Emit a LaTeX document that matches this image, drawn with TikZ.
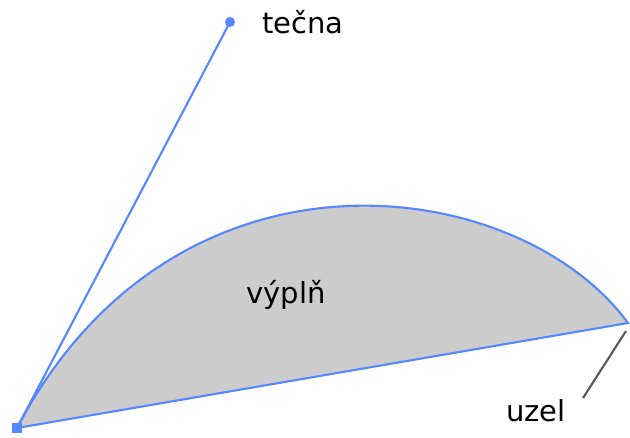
\documentclass[tikz,border=0pt]{standalone}
\usepackage{fontspec}
\setmainfont{DejaVu Sans}
\usetikzlibrary{positioning, calc}
\definecolor{krivka}{RGB}{85,135,255}

\begin{document}
\begin{tikzpicture}[x=0.02cm, y=-0.02cm, font=\fontsize{16.5}{19}\selectfont]
  \useasboundingbox (0,0) rectangle (630,437);
  \coordinate (start) at (17,428);
  \coordinate (konec) at (628,323);
  \coordinate (madlo) at (230,22);
  \coordinate (c1) at (175,127);
  \coordinate (c2) at (518,173);
  % Vyplň
  \fill[gray!40] (start) .. controls (c1) and (c2) .. (konec) -- cycle;
  \draw[krivka, line width=1.2pt] (start) .. controls (c1) and (c2) .. (konec) -- (start);
  % Tečna
  \draw[krivka, line width=1.2pt] (start) -- (madlo);
  \fill[krivka] (madlo) circle (5);
  \fill[krivka] ($(start)+(-5,-5)$) rectangle ($(start)+(5,5)$);
  % Popisky
  \node[anchor=base west, inner sep=0] (tecna) at (262,33) {tečna};
  \node[anchor=base, inner sep=0] (vypln) at (286,303) {výplň};
  \node[anchor=base west, inner sep=0] (uzel) at (506,421) {uzel};
  \coordinate (vodic) at (583,398);
  \draw[gray!70!black, line width=1.2pt] (vodic) -- ([shift={(-2,8)}]konec);
\end{tikzpicture}
\end{document}
